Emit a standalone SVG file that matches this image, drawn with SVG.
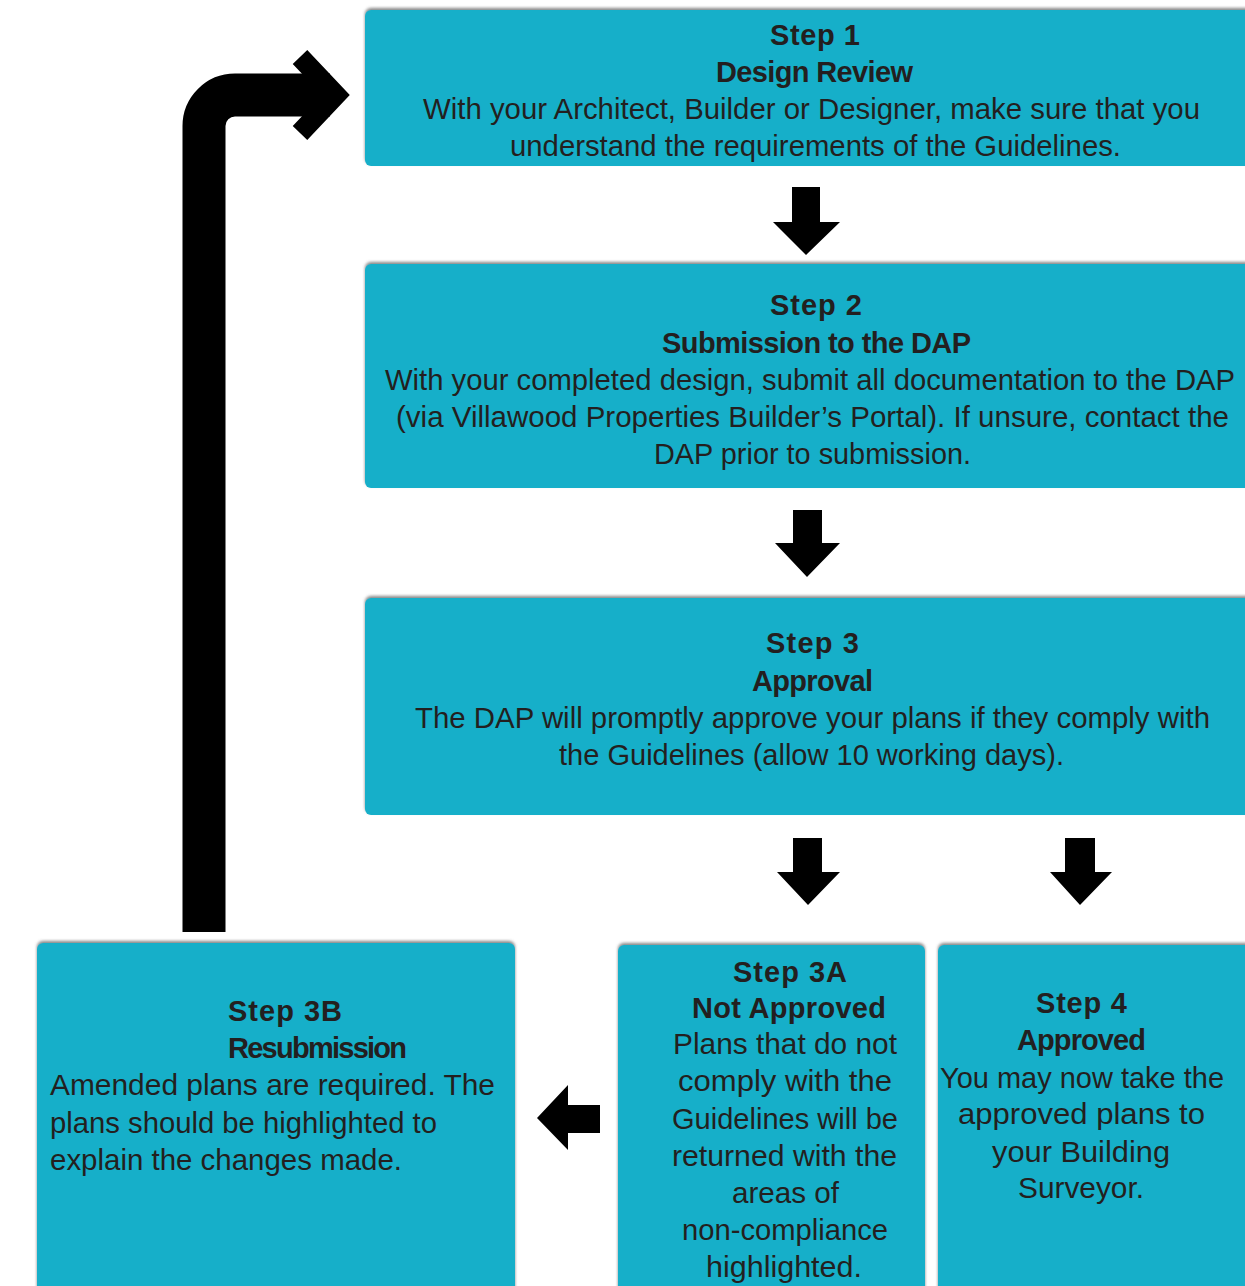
<svg xmlns="http://www.w3.org/2000/svg" width="1245" height="1286" viewBox="0 0 1245 1286">
<style>
.box{fill:#17afc9;filter:url(#sh)}
.t{font-family:"Liberation Sans",Arial,sans-serif;font-size:30px;fill:#231f20}
.b{font-weight:bold;font-size:29px}
.arr{fill:#000}
</style>
<defs>
<filter id="sh" x="-5%" y="-5%" width="110%" height="110%">
<feDropShadow dx="0" dy="-2" stdDeviation="1.5" flood-color="#555" flood-opacity="0.7"/>
</filter>
</defs>
<rect width="1245" height="1286" fill="#fff"/>
<g id="connectors">
<path d="M204,932 V126 A31,31 0 0 1 235,95 H330" fill="none" stroke="#000" stroke-width="43"/>
<polyline points="300,57 336,95 300,133" fill="none" stroke="#000" stroke-width="20" stroke-linejoin="miter"/>
<polygon class="arr" points="792,187 820,187 820,222 840,222 806,255 773,222 792,222"/>
<polygon class="arr" points="793,510 822,510 822,543 840,543 807,577 775,543 793,543"/>
<polygon class="arr" points="793,838 822,838 822,872 840,872 808,905 777,872 793,872"/>
<polygon class="arr" points="1065,838 1095,838 1095,872 1112,872 1080,905 1050,872 1065,872"/>
<polygon class="arr" points="600,1105 600,1133 568,1133 568,1150 537,1118 568,1085 568,1105"/>
</g>
<g id="step1">
<rect class="box" x="365" y="10" width="890" height="156" rx="6"/>
<text class="t b" x="770" y="45" textLength="90">Step 1</text>
<text class="t b" x="716" y="82" textLength="197">Design Review</text>
<text class="t" x="423" y="119" textLength="777" lengthAdjust="spacingAndGlyphs">With your Architect, Builder or Designer, make sure that you</text>
<text class="t" x="510" y="156" textLength="611" lengthAdjust="spacingAndGlyphs">understand the requirements of the Guidelines.</text>
</g>
<g id="step2">
<rect class="box" x="365" y="264" width="890" height="224" rx="6"/>
<text class="t b" x="770" y="315" textLength="92">Step 2</text>
<text class="t b" x="662" y="353" textLength="309">Submission to the DAP</text>
<text class="t" x="385" y="390" textLength="850" lengthAdjust="spacingAndGlyphs">With your completed design, submit all documentation to the DAP</text>
<text class="t" x="396" y="427" textLength="833" lengthAdjust="spacingAndGlyphs">(via Villawood Properties Builder’s Portal). If unsure, contact the</text>
<text class="t" x="654" y="464" textLength="317" lengthAdjust="spacingAndGlyphs">DAP prior to submission.</text>
</g>
<g id="step3">
<rect class="box" x="365" y="598" width="890" height="217" rx="6"/>
<text class="t b" x="766" y="653" textLength="93">Step 3</text>
<text class="t b" x="752" y="691" textLength="121">Approval</text>
<text class="t" x="415" y="728" textLength="795" lengthAdjust="spacingAndGlyphs">The DAP will promptly approve your plans if they comply with</text>
<text class="t" x="559" y="765" textLength="505" lengthAdjust="spacingAndGlyphs">the Guidelines (allow 10 working days).</text>
</g>
<g id="step3b">
<rect class="box" x="37" y="943" width="478" height="360" rx="6"/>
<text class="t b" x="228" y="1021" textLength="114">Step 3B</text>
<text class="t b" x="228" y="1058" textLength="179">Resubmission</text>
<text class="t" x="50" y="1095" textLength="445" lengthAdjust="spacingAndGlyphs">Amended plans are required.  The</text>
<text class="t" x="50" y="1133" textLength="387" lengthAdjust="spacingAndGlyphs">plans should be highlighted to</text>
<text class="t" x="50" y="1170" textLength="352" lengthAdjust="spacingAndGlyphs">explain the changes made.</text>
</g>
<g id="step3a">
<rect class="box" x="618" y="945" width="307" height="360" rx="6"/>
<text class="t b" x="733" y="982" textLength="114">Step 3A</text>
<text class="t b" x="692" y="1018" textLength="194">Not Approved</text>
<text class="t" x="673" y="1054" textLength="224" lengthAdjust="spacingAndGlyphs">Plans that do not</text>
<text class="t" x="678" y="1091" textLength="214" lengthAdjust="spacingAndGlyphs">comply with the</text>
<text class="t" x="672" y="1129" textLength="226" lengthAdjust="spacingAndGlyphs">Guidelines will be</text>
<text class="t" x="672" y="1166" textLength="225" lengthAdjust="spacingAndGlyphs">returned with the</text>
<text class="t" x="732" y="1203" textLength="107" lengthAdjust="spacingAndGlyphs">areas of</text>
<text class="t" x="682" y="1240" textLength="206" lengthAdjust="spacingAndGlyphs">non-compliance</text>
<text class="t" x="706" y="1277" textLength="156" lengthAdjust="spacingAndGlyphs">highlighted.</text>
</g>
<g id="step4">
<rect class="box" x="938" y="945" width="315" height="360" rx="6"/>
<text class="t b" x="1036" y="1013" textLength="91">Step 4</text>
<text class="t b" x="1017" y="1050" textLength="129">Approved</text>
<text class="t" x="940" y="1088" textLength="284" lengthAdjust="spacingAndGlyphs">You may now take the</text>
<text class="t" x="958" y="1124" textLength="247" lengthAdjust="spacingAndGlyphs">approved plans to</text>
<text class="t" x="992" y="1162" textLength="178" lengthAdjust="spacingAndGlyphs">your Building</text>
<text class="t" x="1018" y="1198" textLength="126" lengthAdjust="spacingAndGlyphs">Surveyor.</text>
</g>
</svg>
